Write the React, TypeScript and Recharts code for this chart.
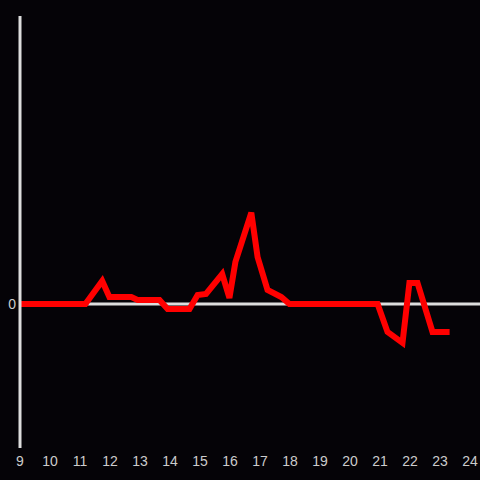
import { LineChart, Line, XAxis, YAxis, ReferenceLine } from "recharts";

// hour of day and the value read at that time
const hours = [
  9, 11.18, 11.74, 11.98, 12.71, 12.92, 13.65, 13.92, 14.65, 14.92, 15.2, 15.74, 15.98,
  16.18, 16.71, 16.92, 17.25, 17.71, 17.98, 20.92, 21.25, 21.75, 21.98, 22.25, 22.75, 23.32,
];
const values = [
  0, 0, 8.0, 2.4, 2.4, 1.4, 1.4, -1.7, -1.7, 3.1, 3.5, 10.4, 2.1,
  14.6, 31.7, 16.3, 4.9, 2.4, 0, 0, -9.7, -13.5, 7.3, 7.3, -9.7, -9.7,
];
const xTicks = [9, 10, 11, 12, 13, 14, 15, 16, 17, 18, 19, 20, 21, 22, 23, 24];
const yTicks = [0];

const data = hours.map((h, i) => ({ hour: h, value: values[i] }));

export default function App() {
  return (
    <div style={{ position: "fixed", top: 0, left: 0, width: 480, height: 480, background: "#050307" }}>
      <LineChart width={480} height={480} data={data} margin={{ top: 16, right: 0, bottom: 0, left: 0 }}>
        <XAxis
          dataKey="hour"
          type="number"
          domain={[9, 24.333]}
          ticks={xTicks}
          allowDataOverflow
          axisLine={false}
          tickLine={false}
          height={32}
          tick={{ fill: "#cccccc", fontSize: 14, fontFamily: "Liberation Sans" }}
        />
        <YAxis
          domain={[-50, 100]}
          ticks={yTicks}
          width={20}
          tickLine={false}
          tickSize={2}
          tickMargin={2}
          axisLine={{ stroke: "#dddddd", strokeWidth: 3 }}
          tick={{ fill: "#cccccc", fontSize: 14, fontFamily: "Liberation Sans" }}
        />
        <ReferenceLine y={0} stroke="#dddddd" strokeWidth={3} />
        <Line
          type="linear"
          dataKey="value"
          stroke="#ff0000"
          strokeWidth={6}
          dot={false}
          isAnimationActive={false}
        />
      </LineChart>
    </div>
  );
}
